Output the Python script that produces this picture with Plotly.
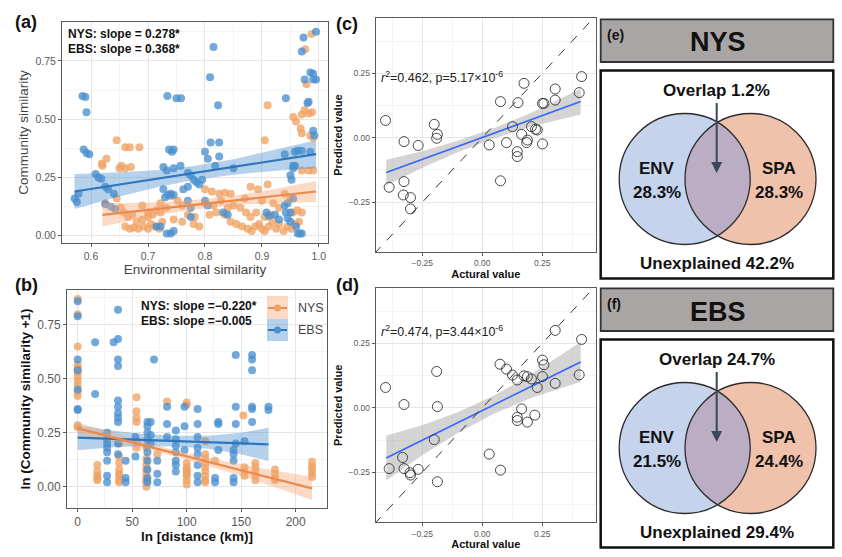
import numpy as np
import plotly.graph_objects as go

W, H = 842, 557
FONT = "Liberation Sans, Arial, sans-serif"

# ---------------- data: panel (a) ----------------
a_ebs_x = [0.571, 0.575, 0.578, 0.585, 0.590, 0.592, 0.587, 0.592, 0.597, 0.608, 0.613, 0.618, 0.625, 0.630,
           0.640, 0.625, 0.635, 0.642, 0.734, 0.750, 0.758, 0.737, 0.742, 0.745, 0.727, 0.733, 0.745, 0.757,
           0.727, 0.730, 0.735, 0.740, 0.745, 0.733, 0.740, 0.745, 0.715, 0.722, 0.762, 0.770, 0.770, 0.775,
           0.780, 0.785, 0.790, 0.795, 0.770, 0.775, 0.775, 0.809, 0.815, 0.823, 0.800, 0.810, 0.825, 0.805,
           0.818, 0.825, 0.850, 0.800, 0.805, 0.832, 0.840, 0.923, 0.930, 0.940, 0.945, 0.942, 0.940, 0.950,
           0.952, 0.955, 0.958, 0.942, 0.945, 0.950, 0.955, 0.963, 0.967, 0.970, 0.958, 0.963, 0.970, 0.970,
           0.973, 0.975, 0.980, 0.982, 0.985, 0.990, 0.990, 0.995, 0.995, 0.990, 0.992, 0.985, 0.960, 0.950,
           0.955, 0.908, 0.912]
a_ebs_y = [0.160, 0.145, 0.180, 0.600, 0.595, 0.530, 0.370, 0.355, 0.350, 0.265, 0.250, 0.245, 0.210, 0.200,
           0.180, 0.135, 0.125, 0.115, 0.600, 0.590, 0.590, 0.370, 0.360, 0.370, 0.295, 0.280, 0.290, 0.300,
           0.200, 0.165, 0.175, 0.180, 0.175, 0.010, 0.010, 0.020, 0.040, 0.040, 0.200, 0.210, 0.270, 0.260,
           0.240, 0.230, 0.220, 0.240, 0.150, 0.120, 0.080, 0.680, 0.810, 0.560, 0.360, 0.400, 0.400, 0.330,
           0.300, 0.340, 0.290, 0.150, 0.130, 0.100, 0.090, 0.090, 0.070, 0.130, 0.140, 0.590, 0.350, 0.260,
           0.240, 0.290, 0.300, 0.100, 0.075, 0.060, 0.160, 0.010, 0.010, 0.010, 0.360, 0.365, 0.365, 0.790,
           0.850, 0.670, 0.570, 0.575, 0.700, 0.695, 0.670, 0.670, 0.875, 0.450, 0.430, 0.360, 0.040, 0.100,
           0.300, 0.100, 0.085]
a_nys_x = [0.645, 0.620, 0.627, 0.653, 0.660, 0.668, 0.685, 0.650, 0.660, 0.670, 0.625, 0.645, 0.652, 0.658,
           0.665, 0.672, 0.680, 0.690, 0.700, 0.660, 0.668, 0.675, 0.683, 0.692, 0.700, 0.705, 0.712, 0.720,
           0.725, 0.700, 0.708, 0.715, 0.722, 0.690, 0.745, 0.770, 0.782, 0.800, 0.812, 0.825, 0.835, 0.845,
           0.800, 0.815, 0.828, 0.808, 0.820, 0.835, 0.845, 0.855, 0.862, 0.872, 0.880, 0.865, 0.875, 0.882,
           0.888, 0.895, 0.900, 0.905, 0.912, 0.918, 0.925, 0.930, 0.938, 0.945, 0.952, 0.958, 0.905, 0.910,
           0.880, 0.893, 0.900, 0.910, 0.920, 0.930, 0.955, 0.960, 0.968, 0.970, 0.975, 0.982, 0.988, 0.978,
           0.976, 0.987, 0.970, 0.985, 0.990, 0.970, 0.982, 0.990, 0.940, 0.950, 0.955, 0.962, 0.970, 0.965,
           0.740, 0.752, 0.760, 0.722, 0.732, 0.780, 0.790, 0.760, 0.840, 0.850, 0.870, 0.890, 0.905, 0.915,
           0.619]
a_nys_y = [0.410, 0.300, 0.330, 0.300, 0.380, 0.380, 0.380, 0.290, 0.290, 0.295, 0.140, 0.160, 0.120, 0.100,
           0.080, 0.090, 0.060, 0.070, 0.080, 0.040, 0.030, 0.035, 0.030, 0.040, 0.030, 0.050, 0.040, 0.030,
           0.060, 0.100, 0.090, 0.110, 0.100, 0.130, 0.070, 0.090, 0.080, 0.200, 0.190, 0.180, 0.185, 0.180,
           0.140, 0.130, 0.150, 0.090, 0.100, 0.090, 0.060, 0.050, 0.120, 0.100, 0.080, 0.040, 0.030, 0.020,
           0.040, 0.050, 0.030, 0.020, 0.040, 0.060, 0.030, 0.050, 0.020, 0.040, 0.030, 0.050, 0.410, 0.560,
           0.210, 0.200, 0.150, 0.220, 0.140, 0.120, 0.510, 0.490, 0.460, 0.520, 0.540, 0.525, 0.530, 0.650,
           0.800, 0.865, 0.440, 0.430, 0.420, 0.280, 0.280, 0.280, 0.180, 0.160, 0.100, 0.110, 0.100, 0.060,
           0.170, 0.150, 0.130, 0.140, 0.120, 0.050, 0.040, 0.060, 0.120, 0.130, 0.160, 0.100, 0.080, 0.090,
           0.310]

a_ebs_fit_x = [0.571, 0.65, 0.72, 0.78, 0.85, 0.92, 0.995]
a_ebs_fit_y = [0.190, 0.220, 0.246, 0.269, 0.295, 0.322, 0.350]
a_ebs_lo = [0.115, 0.168, 0.210, 0.239, 0.262, 0.278, 0.290]
a_ebs_hi = [0.265, 0.272, 0.282, 0.299, 0.328, 0.366, 0.410]
a_nys_fit_x = [0.62, 0.68, 0.74, 0.80, 0.86, 0.92, 0.995]
a_nys_fit_y = [0.090, 0.106, 0.122, 0.138, 0.154, 0.170, 0.190]
a_nys_lo = [0.040, 0.071, 0.098, 0.118, 0.132, 0.140, 0.145]
a_nys_hi = [0.140, 0.141, 0.146, 0.158, 0.176, 0.200, 0.235]

# ---------------- data: panel (b) ----------------
b_nys_dist = [0, 18, 38, 54, 63, 73, 82, 100, 117, 126, 152, 153, 163, 181, 215]
b_nys_sim = [[0.87, 0.80, 0.65, 0.565, 0.55, 0.53, 0.51, 0.49, 0.47, 0.44, 0.42, 0.285, 0.275],
             [0.10, 0.07, 0.05, 0.04, 0.03],
             [0.20, 0.14, 0.11, 0.08, 0.06, 0.05, 0.03, 0.02],
             [0.415, 0.35, 0.32, 0.30, 0.21, 0.18],
             [0.18, 0.13, 0.10, 0.08, 0.06, 0.04, 0.03, 0.02, 0.00],
             [0.15],
             [0.395],
             [0.39, 0.38, 0.11, 0.09, 0.08, 0.07, 0.06, 0.05, 0.03, 0.01],
             [0.21, 0.15, 0.13, 0.11, 0.09, 0.07, 0.05, 0.03, 0.02],
             [0.12],
             [0.33],
             [0.09, 0.07, 0.05],
             [0.11, 0.09, 0.07, 0.05, 0.03],
             [0.08, 0.06, 0.04, 0.03],
             [0.115, 0.095, 0.08, 0.06, 0.045]]
b_ebs_dist = [0, 16, 27, 33, 37, 44, 53, 64, 67, 70, 73, 82, 90, 98, 110, 126, 129, 143, 145, 153, 160, 175]
b_ebs_sim = [[0.86, 0.79, 0.59, 0.54, 0.45, 0.36, 0.355],
             [0.67, 0.43],
             [0.25, 0.22, 0.20, 0.18, 0.16, 0.12, 0.05, 0.02],
             [0.67],
             [0.82, 0.685, 0.59, 0.56, 0.40, 0.37, 0.34, 0.32, 0.30, 0.20, 0.15],
             [0.12, 0.04, 0.02],
             [0.23, 0.14],
             [0.30, 0.28, 0.25, 0.22, 0.19, 0.16, 0.12, 0.08, 0.04, 0.02],
             [0.30, 0.24, 0.20],
             [0.59],
             [0.12, 0.06, 0.02],
             [0.37, 0.29, 0.23],
             [0.26, 0.22, 0.19, 0.16, 0.12, 0.10, 0.07],
             [0.37, 0.28, 0.17],
             [0.36, 0.29, 0.23, 0.18, 0.15, 0.10, 0.05, 0.02],
             [0.04, 0.02],
             [0.30, 0.29, 0.17],
             [0.17, 0.15, 0.12, 0.04, 0.02],
             [0.61, 0.37, 0.29, 0.20],
             [0.21],
             [0.61, 0.59, 0.54, 0.37, 0.36, 0.30],
             [0.37, 0.355]]

b_ebs_fit_x = [0, 30, 60, 90, 120, 150, 175]
b_ebs_fit_y = [0.227, 0.222, 0.216, 0.211, 0.206, 0.200, 0.196]
b_ebs_lo = [0.169, 0.182, 0.188, 0.186, 0.176, 0.150, 0.119]
b_ebs_hi = [0.285, 0.262, 0.244, 0.236, 0.236, 0.250, 0.273]
b_nys_fit_x = [0, 35, 70, 105, 140, 175, 215]
b_nys_fit_y = [0.270, 0.225, 0.179, 0.134, 0.089, 0.044, -0.008]
b_nys_lo = [0.242, 0.205, 0.164, 0.118, 0.065, 0.008, -0.062]
b_nys_hi = [0.298, 0.245, 0.194, 0.150, 0.113, 0.080, 0.046]

# ---------------- data: panels (c) and (d) ----------------
c_actual = [-0.403, -0.388, -0.326, -0.326, -0.329, -0.299, -0.299, -0.267, -0.200, -0.187, -0.190, 0.029,
            0.076, 0.076, 0.101, 0.126, 0.149, 0.174, 0.146, 0.146, 0.164, 0.188, 0.185, 0.205, 0.222, 0.229,
            0.251, 0.257, 0.251, 0.304, 0.304, 0.404, 0.414]
c_pred = [0.067, -0.192, -0.015, -0.170, -0.222, -0.232, -0.276, -0.030, 0.052, 0.013, -0.002, -0.028,
          0.140, -0.167, -0.019, 0.043, 0.136, 0.211, -0.054, -0.073, 0.013, -0.009, -0.019, 0.043, 0.033,
          0.030, 0.133, 0.133, -0.024, 0.146, 0.189, 0.175, 0.237]
c_fit_x = [-0.40, -0.25, -0.10, 0.05, 0.20, 0.41]
c_fit_y = [-0.135, -0.084, -0.033, 0.018, 0.069, 0.140]
c_lo = [-0.185, -0.116, -0.055, -0.002, 0.043, 0.090]
c_hi = [-0.085, -0.052, -0.011, 0.038, 0.095, 0.190]

d_actual = [-0.403, -0.388, -0.326, -0.332, -0.326, -0.301, -0.299, -0.267, -0.200, -0.190, -0.187, -0.187,
            0.029, 0.074, 0.076, 0.101, 0.126, 0.146, 0.146, 0.146, 0.164, 0.174, 0.188, 0.188, 0.205, 0.219,
            0.229, 0.251, 0.257, 0.251, 0.304, 0.304, 0.404, 0.414]
d_pred = [0.079, -0.235, 0.013, -0.192, -0.235, -0.251, -0.260, -0.238, -0.123, 0.141, 0.005, -0.286,
          -0.179, 0.169, -0.241, 0.150, 0.127, 0.108, -0.036, -0.049, -0.004, 0.124, 0.121, -0.055, 0.112,
          -0.028, 0.079, 0.185, 0.167, 0.121, 0.300, 0.095, 0.128, 0.265]
d_fit_x = [-0.40, -0.25, -0.10, 0.05, 0.20, 0.41]
d_fit_y = [-0.194, -0.125, -0.056, 0.013, 0.082, 0.178]
d_lo = [-0.281, -0.183, -0.096, -0.022, 0.037, 0.101]
d_hi = [-0.107, -0.067, -0.016, 0.048, 0.127, 0.255]
identity_line = [-0.5, 0.5]

# ---------------- data: Venn panels (e), (f) ----------------
venn_tags = ["(e)", "(f)"]
venn_titles = ["NYS", "EBS"]
venn_env = [28.3, 21.5]
venn_spa = [28.3, 24.4]
venn_overlap = [1.2, 24.7]
venn_unexplained = [42.2, 29.4]

# ---------------- tick labels ----------------
a_xticks = [0.6, 0.7, 0.8, 0.9, 1.0]
a_xtext = ["0.6", "0.7", "0.8", "0.9", "1.0"]
sim_yticks = [0.0, 0.25, 0.5, 0.75]
sim_ytext = ["0.00", "0.25", "0.50", "0.75"]
b_xticks = [0, 50, 100, 150, 200]
b_xtext = ["0", "50", "100", "150", "200"]
cd_ticks = [-0.25, 0.0, 0.25]
cd_text = ["\u22120.25", "0.00", "0.25"]

# ---------------- colours ----------------
ORANGE = "#f0a263"
BLUE = "#4a8fcf"
ORANGE_LINE = "#ea8b4c"
BLUE_LINE = "#2f76bb"
ORANGE_BAND = "rgba(245,168,118,0.42)"
BLUE_BAND = "rgba(72,140,205,0.40)"


def dx(l, r):
    return [l / W, r / W]


def dy(t, b):
    return [1 - b / H, 1 - t / H]


fig = go.Figure()


def band(x, lo, hi, color, xa, ya):
    fig.add_trace(go.Scatter(x=list(x) + list(x)[::-1], y=list(hi) + list(lo)[::-1], fill="toself",
                             fillcolor=color, line=dict(width=0), mode="lines", hoverinfo="skip",
                             showlegend=False, xaxis=xa, yaxis=ya))


def line(x, y, color, xa, ya, width=2.2, dash=None):
    fig.add_trace(go.Scatter(x=x, y=y, mode="lines", line=dict(color=color, width=width, dash=dash),
                             showlegend=False, xaxis=xa, yaxis=ya))


def pts(x, y, color, xa, ya):
    fig.add_trace(go.Scatter(x=x, y=y, mode="markers", marker=dict(color=color, size=8, opacity=0.78),
                             showlegend=False, xaxis=xa, yaxis=ya))


# panel (a)
pts(a_nys_x, a_nys_y, ORANGE, "x", "y")
pts(a_ebs_x, a_ebs_y, BLUE, "x", "y")
band(a_ebs_fit_x, a_ebs_lo, a_ebs_hi, BLUE_BAND, "x", "y")
band(a_nys_fit_x, a_nys_lo, a_nys_hi, ORANGE_BAND, "x", "y")
line(a_ebs_fit_x, a_ebs_fit_y, BLUE_LINE, "x", "y")
line(a_nys_fit_x, a_nys_fit_y, ORANGE_LINE, "x", "y")

# panel (b)
bnx = [d for d, s in zip(b_nys_dist, b_nys_sim) for _ in s]
bny = [v for s in b_nys_sim for v in s]
bex = [d for d, s in zip(b_ebs_dist, b_ebs_sim) for _ in s]
bey = [v for s in b_ebs_sim for v in s]
pts(bnx, bny, ORANGE, "x2", "y2")
pts(bex, bey, BLUE, "x2", "y2")
band(b_ebs_fit_x, b_ebs_lo, b_ebs_hi, BLUE_BAND, "x2", "y2")
band(b_nys_fit_x, b_nys_lo, b_nys_hi, ORANGE_BAND, "x2", "y2")
line(b_ebs_fit_x, b_ebs_fit_y, BLUE_LINE, "x2", "y2")
line(b_nys_fit_x, b_nys_fit_y, ORANGE_LINE, "x2", "y2")

# panels (c), (d)
for xa, ya, fx, fy, lo, hi, ax_, pr_ in [("x3", "y3", c_fit_x, c_fit_y, c_lo, c_hi, c_actual, c_pred),
                                          ("x4", "y4", d_fit_x, d_fit_y, d_lo, d_hi, d_actual, d_pred)]:
    band(fx, lo, hi, "rgba(160,160,160,0.45)", xa, ya)
    line(fx, fy, "#3366ff", xa, ya, width=1.6)
    line(identity_line, identity_line, "#222222", xa, ya, width=0.9, dash="dash")
    fig.add_trace(go.Scatter(x=ax_, y=pr_, mode="markers",
                             marker=dict(symbol="circle-open", size=10, color="#333333", line=dict(width=0.9)),
                             showlegend=False, xaxis=xa, yaxis=ya))

# Venn panels: local geometry (units = px)
C1 = (84.7, 161.0)
C2 = (150.5, 161.0)
R = 65.5
dcen = C2[0] - C1[0]
theta = np.arccos((dcen / 2) / R)
t1 = np.linspace(-theta, theta, 60)
t2 = np.linspace(np.pi - theta, np.pi + theta, 60)
lens_x = list(C1[0] + R * np.cos(t1)) + list(C2[0] + R * np.cos(t2))
lens_y = list(C1[1] + R * np.sin(t1)) + list(C2[1] + R * np.sin(t2))

shapes = []
annotations = []
for i, (xa, ya) in enumerate([("x5", "y5"), ("x6", "y6")]):
    xr, yr = xa, ya
    shapes.append(dict(type="rect", xref=xr, yref=yr, x0=0.7, x1=233.3, y0=1.3, y1=44,
                       fillcolor="#a9a5a4", line=dict(color="#333333", width=1.8), layer="below"))
    shapes.append(dict(type="rect", xref=xr, yref=yr, x0=0.7, x1=233.3, y0=52.5, y1=260.5,
                       fillcolor="white", line=dict(color="#111111", width=2.5), layer="below"))
    shapes.append(dict(type="circle", xref=xr, yref=yr, x0=C1[0] - R, x1=C1[0] + R, y0=C1[1] - R, y1=C1[1] + R,
                       fillcolor="#c5d3ed", line=dict(width=0), layer="below"))
    shapes.append(dict(type="circle", xref=xr, yref=yr, x0=C2[0] - R, x1=C2[0] + R, y0=C2[1] - R, y1=C2[1] + R,
                       fillcolor="#f0c1ab", line=dict(width=0), layer="below"))
    shapes.append(dict(type="circle", xref=xr, yref=yr, x0=C1[0] - R, x1=C1[0] + R, y0=C1[1] - R, y1=C1[1] + R,
                       line=dict(color="#2b2b2b", width=1.3), layer="above"))
    shapes.append(dict(type="circle", xref=xr, yref=yr, x0=C2[0] - R, x1=C2[0] + R, y0=C2[1] - R, y1=C2[1] + R,
                       line=dict(color="#2b2b2b", width=1.3), layer="above"))
    fig.add_trace(go.Scatter(x=lens_x, y=lens_y, fill="toself", fillcolor="rgba(183,172,198,0.93)",
                             mode="lines", line=dict(width=0), hoverinfo="skip", showlegend=False,
                             xaxis=xa, yaxis=ya))
    bold = dict(family=FONT, size=17, color="#111111")
    annotations += [
        dict(xref=xr, yref=yr, x=5, y=17, text="<b>%s</b>" % venn_tags[i], showarrow=False, xanchor="left",
             yanchor="middle", font=dict(family=FONT, size=14, color="#111111")),
        dict(xref=xr, yref=yr, x=117.5, y=24.5, text="<b>%s</b>" % venn_titles[i], showarrow=False,
             xanchor="center", yanchor="middle", font=dict(family=FONT, size=27, color="#111111")),
        dict(xref=xr, yref=yr, x=116.7, y=72, text="<b>Overlap %.1f%%</b>" % venn_overlap[i], showarrow=False,
             xanchor="center", yanchor="middle", font=bold),
        dict(xref=xr, yref=yr, x=56.7, y=150, text="<b>ENV</b>", showarrow=False, xanchor="center",
             yanchor="middle", font=bold),
        dict(xref=xr, yref=yr, x=56.7, y=174, text="<b>%.1f%%</b>" % venn_env[i], showarrow=False,
             xanchor="center", yanchor="middle", font=bold),
        dict(xref=xr, yref=yr, x=179.3, y=150, text="<b>SPA</b>", showarrow=False, xanchor="center",
             yanchor="middle", font=bold),
        dict(xref=xr, yref=yr, x=179.3, y=174, text="<b>%.1f%%</b>" % venn_spa[i], showarrow=False,
             xanchor="center", yanchor="middle", font=bold),
        dict(xref=xr, yref=yr, x=117.3, y=245.3, text="<b>Unexplained %.1f%%</b>" % venn_unexplained[i],
             showarrow=False, xanchor="center", yanchor="middle", font=bold),
        dict(xref=xr, yref=yr, x=116.7, y=155, ax=116.7, ay=83.5, axref=xr, ayref=yr, text="",
             showarrow=True, arrowhead=2, arrowsize=1.1, arrowwidth=2, arrowcolor="#3a475a"),
    ]

# panel labels and stats text (paper coords)
def pa(x, y, text, size, anchor="center", color="#111111"):
    annotations.append(dict(xref="paper", yref="paper", x=x / W, y=1 - y / H, text=text, showarrow=False,
                            xanchor=anchor, yanchor="middle", font=dict(family=FONT, size=size, color=color)))


pa(26, 22, "<b>(a)</b>", 18)
pa(26, 285, "<b>(b)</b>", 18)
pa(347, 24, "<b>(c)</b>", 18)
pa(347, 285, "<b>(d)</b>", 18)
pa(66, 34, "<b>NYS: slope = 0.278*</b>", 12, anchor="left")
pa(66, 49, "<b>EBS: slope = 0.368*</b>", 12, anchor="left")
pa(139, 306, "<b>NYS: slope =\u22120.220*</b>", 12, anchor="left")
pa(139, 321, "<b>EBS: slope =\u22120.005</b>", 12, anchor="left")
pa(379, 77, "<i>r</i><sup>2</sup>=0.462, p=5.17\u00d710<sup>-6</sup>", 12.5, anchor="left", color="#222222")
pa(379, 331, "<i>r</i><sup>2</sup>=0.474, p=3.44\u00d710<sup>-6</sup>", 12.5, anchor="left", color="#222222")

# manual legend in (b)
shapes += [
    dict(type="rect", xref="paper", yref="paper", x0=267 / W, x1=288 / W, y0=1 - 319 / H, y1=1 - 296 / H,
         fillcolor=ORANGE_BAND, line=dict(width=0)),
    dict(type="rect", xref="paper", yref="paper", x0=267 / W, x1=288 / W, y0=1 - 341 / H, y1=1 - 319 / H,
         fillcolor=BLUE_BAND, line=dict(width=0)),
    dict(type="line", xref="paper", yref="paper", x0=268 / W, x1=287 / W, y0=1 - 308 / H, y1=1 - 308 / H,
         line=dict(color=ORANGE_LINE, width=2)),
    dict(type="line", xref="paper", yref="paper", x0=268 / W, x1=287 / W, y0=1 - 330 / H, y1=1 - 330 / H,
         line=dict(color=BLUE_LINE, width=2)),
    dict(type="circle", xref="paper", yref="paper", x0=274 / W, x1=281 / W, y0=1 - 311.5 / H, y1=1 - 304.5 / H,
         fillcolor=ORANGE, line=dict(width=0)),
    dict(type="circle", xref="paper", yref="paper", x0=274 / W, x1=281 / W, y0=1 - 333.5 / H, y1=1 - 326.5 / H,
         fillcolor=BLUE, line=dict(width=0)),
]
pa(296, 308, "NYS", 12.5, anchor="left", color="#444444")
pa(296, 330, "EBS", 12.5, anchor="left", color="#444444")


def axis(anchor, domain, rng, tickvals, ticktext, minor_vals, tsize, title, tfont, standoff):
    return dict(anchor=anchor, domain=domain, range=rng, tickvals=tickvals, ticktext=ticktext, showline=True,
                mirror=True, linecolor="#5a5a5a", linewidth=1, showgrid=True, gridcolor="#e6e6e6", gridwidth=1,
                minor=dict(tickvals=minor_vals, showgrid=True, gridcolor="#f4f4f4", gridwidth=1, ticks=""),
                ticks="outside", ticklen=3, tickcolor="#5a5a5a", zeroline=False,
                tickfont=dict(family=FONT, size=tsize, color="#5a5a5a"),
                title=dict(text=title, font=tfont, standoff=standoff))


plain13 = dict(family=FONT, size=13.5, color="#444444")
bold13 = dict(family=FONT, size=13.5, color="#111111")
bold11 = dict(family=FONT, size=11, color="#111111")
mvals = [-0.375, -0.125, 0.125, 0.375]

layout = dict(
    width=W, height=H, margin=dict(l=0, r=0, t=0, b=0), paper_bgcolor="white", plot_bgcolor="white",
    showlegend=False, shapes=shapes, annotations=annotations, font=dict(family=FONT),
    xaxis=axis("y", dx(62, 328), [0.549, 1.016], a_xticks, a_xtext, [0.55, 0.65, 0.75, 0.85, 0.95], 10.5,
               "Environmental similarity", plain13, 3),
    yaxis=axis("x", dy(22, 243), [-0.031, 0.917], sim_yticks, sim_ytext, [0.125, 0.375, 0.625, 0.875], 10.5,
               "Community similarity", plain13, 3),
    xaxis2=axis("y2", dx(67, 327), [-9.8, 228.7], b_xticks, b_xtext, [25, 75, 125, 175, 225], 12,
                "<b>ln [distance (km)]</b>", bold13, 3),
    yaxis2=axis("x2", dy(290, 508), [-0.099, 0.912], sim_yticks, sim_ytext, [0.125, 0.375, 0.625, 0.875], 12,
                "<b>ln (Community similarity +1)</b>", bold13, 3),
    xaxis3=axis("y3", dx(375.7, 596), [-0.444, 0.474], cd_ticks, cd_text, mvals, 8.5,
                "<b>Actural value</b>", bold11, 1),
    yaxis3=axis("x3", dy(18.3, 252), [-0.443, 0.463], cd_ticks, cd_text, mvals, 8.5,
                "<b>Predicted value</b>", bold11, 3),
    xaxis4=axis("y4", dx(375.7, 596), [-0.444, 0.474], cd_ticks, cd_text, mvals, 8.5,
                "<b>Actural value</b>", bold11, 1),
    yaxis4=axis("x4", dy(288.3, 522.3), [-0.443, 0.463], cd_ticks, cd_text, mvals, 8.5,
                "<b>Predicted value</b>", bold11, 3),
    xaxis5=dict(anchor="y5", domain=dx(597, 837), range=[-3, 237], visible=False, fixedrange=True),
    yaxis5=dict(anchor="x5", domain=dy(15, 283), range=[265, -3], visible=False, fixedrange=True),
    xaxis6=dict(anchor="y6", domain=dx(597, 837), range=[-3, 237], visible=False, fixedrange=True),
    yaxis6=dict(anchor="x6", domain=dy(284, 552), range=[265, -3], visible=False, fixedrange=True),
)
fig.update_layout(**layout)
fig.write_html("out.html", config={"displayModeBar": False},
               post_script="document.body.style.margin='0';document.body.style.overflow='hidden';")
